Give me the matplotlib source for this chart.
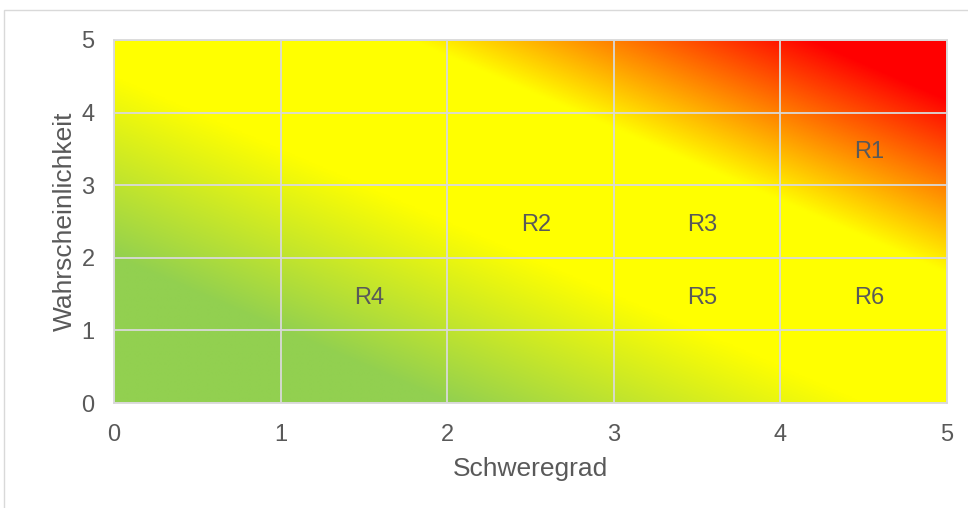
import numpy as np
import matplotlib
matplotlib.use("Agg")
import matplotlib.pyplot as plt
from matplotlib.colors import LinearSegmentedColormap
from matplotlib.patches import Rectangle
from matplotlib.transforms import offset_copy

# ---- data ----
risk_labels = ["R1", "R2", "R3", "R4", "R5", "R6"]
severity = [4.5, 2.5, 3.5, 1.5, 3.5, 4.5]
probability = [3.5, 2.5, 2.5, 1.5, 1.5, 1.5]
x_ticks = [0, 1, 2, 3, 4, 5]
y_ticks = [0, 1, 2, 3, 4, 5]
x_title = "Schweregrad"
y_title = "Wahrscheinlichkeit"

# gradient stops (position, colour)
grad_pos = [0.0, 0.20, 0.45, 0.68, 0.92, 1.0]
grad_col = ["#92D050", "#92D050", "#FFFF00", "#FFFF00", "#FF0000", "#FF0000"]

plt.rcParams['font.family'] = ['Liberation Sans', 'DejaVu Sans']
text_col = "#595959"
grid_col = "#D9D9D9"

fig = plt.figure(figsize=(9.68, 5.08), dpi=100)
fig.patches.append(Rectangle((4 / 968, -0.1), 1.2, (498 / 508) + 0.1,
                             transform=fig.transFigure, fill=False,
                             edgecolor=grid_col, linewidth=1.0))

ax = fig.add_axes([114 / 968, 105 / 508, 833 / 968, 363 / 508])

cmap = LinearSegmentedColormap.from_list("risk", list(zip(grad_pos, grad_col)), N=512)
xmax, ymax = x_ticks[-1], y_ticks[-1]
gx = np.linspace(0, xmax, 600)
gy = np.linspace(0, ymax, 300)
GX, GY = np.meshgrid(gx, gy)
T = (GX / xmax + GY / ymax) / 2.0
ax.imshow(T, extent=[0, xmax, 0, ymax], origin="lower", cmap=cmap,
          vmin=0, vmax=1, aspect="auto", interpolation="bilinear", zorder=0)

ax.set_xlim(0, xmax)
ax.set_ylim(0, ymax)
ax.set_xticks(x_ticks)
ax.set_yticks(y_ticks)
ax.grid(True, color=grid_col, linewidth=1.3)
ax.tick_params(axis="both", length=0, labelsize=17, labelcolor=text_col)
ax.tick_params(axis="x", pad=15)
ax.tick_params(axis="y", pad=14)
for s in ax.spines.values():
    s.set_color(grid_col)
    s.set_linewidth(1.3)

ax.scatter(severity, probability, s=0, alpha=0)
lab_tr = offset_copy(ax.transData, fig=fig, x=4, y=-2.5, units="points")
for lab, xv, yv in zip(risk_labels, severity, probability):
    ax.text(xv, yv, lab, ha="center", va="center", fontsize=17,
            color=text_col, transform=lab_tr)

ax.set_xlabel(x_title, fontsize=19, color=text_col, labelpad=8)
ax.set_ylabel(y_title, fontsize=19, color=text_col, labelpad=3)

fig.savefig("out.png", dpi=100)
